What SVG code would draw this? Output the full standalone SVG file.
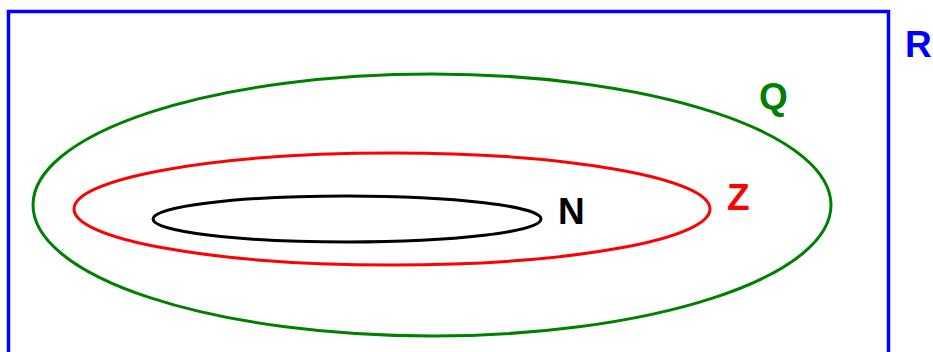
<svg xmlns="http://www.w3.org/2000/svg" width="933" height="352" viewBox="0 0 933 352">
<style>
.lbl{font-family:"Liberation Sans",Arial,sans-serif;font-weight:bold;font-size:37px}
.set{fill:none;stroke-width:3}
</style>
<rect width="933" height="352" fill="#fff"/>
<g id="R">
<rect x="8.5" y="11.5" width="880" height="360" fill="none" stroke="#0000ff" stroke-width="3.5"/>
<text class="lbl" x="905" y="57" fill="#0000ff">R</text>
</g>
<g id="Q">
<ellipse class="set" cx="432" cy="205" rx="399" ry="131" stroke="#008000"/>
<text class="lbl" x="759" y="109" fill="#008000">Q</text>
</g>
<g id="Z">
<ellipse class="set" cx="392" cy="209" rx="318" ry="56" stroke="#ff0000"/>
<text class="lbl" x="727" y="210" fill="#ff0000">Z</text>
</g>
<g id="N">
<ellipse class="set" cx="347" cy="219" rx="194" ry="23" stroke="#000000"/>
<text class="lbl" x="558" y="224" fill="#000000">N</text>
</g>
<g id="connectors"/>
</svg>
